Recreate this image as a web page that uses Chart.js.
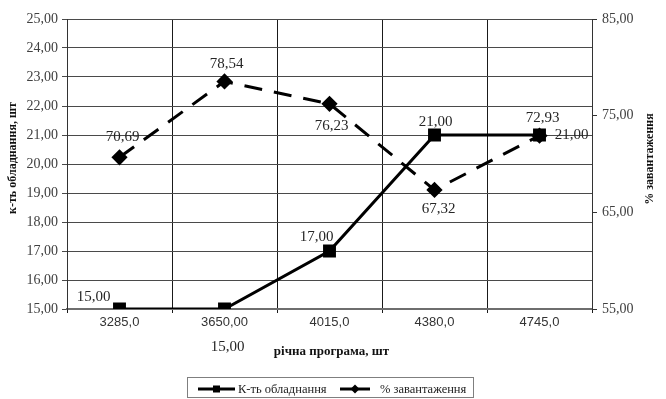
<!DOCTYPE html>
<html>
<head>
<meta charset="utf-8">
<script src="https://cdn.jsdelivr.net/npm/chart.js@4/dist/chart.umd.min.js"></script>
<style>
  html, body { margin: 0; padding: 0; background: #fff; }
  canvas { display: block; }
</style>
</head>
<body>
<canvas id="c" width="666" height="399"></canvas>
<script>
// Annual programme (categories) and the two series
const programme = ["3285,0", "3650,00", "4015,0", "4380,0", "4745,0"];
const equipmentCount = [15, 15, 17, 21, 21];
const loadPercent = [70.69, 78.54, 76.23, 67.32, 72.93];

const equipmentLabel = "К-ть обладнання";
const loadLabel = "% завантаження";
const leftTitle = "к-ть обладнання, шт";
const rightTitle = "% завантаження";
const xTitle = "річна програма, шт";

// Where each value label sits relative to its point (dx, dy)
const equipmentLabelOffsets = [[-26, -12], [3, 38], [-13, -14], [1, -13], [32, 0]];
const loadLabelOffsets = [[3, -20], [2, -17], [2, 22], [4, 19], [3, -18]];

const fmt = v => v.toFixed(2).replace('.', ',');
const SERIF = '"Liberation Serif", "Times New Roman", serif';
const SANS = '"Liberation Sans", Arial, sans-serif';

const valueLabels = {
  id: 'valueLabels',
  afterDatasetsDraw(chart) {
    const ctx = chart.ctx;
    const offsets = [equipmentLabelOffsets, loadLabelOffsets];
    ctx.save();
    ctx.font = '15px ' + SERIF;
    ctx.fillStyle = '#262626';
    ctx.textAlign = 'center';
    ctx.textBaseline = 'middle';
    chart.data.datasets.forEach((ds, di) => {
      const meta = chart.getDatasetMeta(di);
      meta.data.forEach((pt, i) => {
        const [dx, dy] = offsets[di][i];
        ctx.fillText(fmt(ds.data[i]), pt.x + dx, pt.y + dy);
      });
    });
    ctx.restore();
  }
};

const titlesAndLegend = {
  id: 'titlesAndLegend',
  afterDraw(chart) {
    const ctx = chart.ctx;
    const area = chart.chartArea;
    ctx.save();
    ctx.fillStyle = '#111';
    ctx.font = 'bold 12px ' + SERIF;
    ctx.textAlign = 'center';
    ctx.textBaseline = 'middle';
    // left axis title
    ctx.save();
    ctx.translate(13, 158);
    ctx.rotate(-Math.PI / 2);
    ctx.fillText(leftTitle, 0, 0);
    ctx.restore();
    // right axis title
    ctx.save();
    ctx.translate(650, 159);
    ctx.rotate(-Math.PI / 2);
    ctx.fillText(rightTitle, 0, 0);
    ctx.restore();
    // x axis title
    ctx.font = 'bold 13px ' + SERIF;
    ctx.fillText(xTitle, (area.left + area.right) / 2 + 2, 352);

    // legend
    ctx.strokeStyle = '#7f7f7f';
    ctx.lineWidth = 1;
    ctx.strokeRect(187.5, 377.5, 286, 20);
    const items = [
      { x: 198, w: 37, textX: 238, label: chart.data.datasets[0].label, style: 'rect' },
      { x: 340, w: 30, textX: 380, label: chart.data.datasets[1].label, style: 'rectRot' }
    ];
    ctx.font = '12.5px ' + SERIF;
    ctx.textAlign = 'left';
    items.forEach(it => {
      const cy = 389;
      const mx = it.x + it.w / 2;
      ctx.strokeStyle = '#000';
      ctx.lineWidth = 3;
      ctx.beginPath();
      ctx.moveTo(it.x, cy);
      ctx.lineTo(it.x + it.w, cy);
      ctx.stroke();
      ctx.fillStyle = '#000';
      if (it.style === 'rect') {
        ctx.fillRect(mx - 3.5, cy - 3.5, 7, 7);
      } else {
        ctx.beginPath();
        ctx.moveTo(mx, cy - 4.5);
        ctx.lineTo(mx + 4.5, cy);
        ctx.lineTo(mx, cy + 4.5);
        ctx.lineTo(mx - 4.5, cy);
        ctx.closePath();
        ctx.fill();
      }
      ctx.fillStyle = '#222';
      ctx.fillText(it.label, it.textX, cy + 1);
    });
    ctx.restore();
  }
};

new Chart(document.getElementById('c'), {
  type: 'line',
  data: {
    labels: programme,
    datasets: [
      {
        label: equipmentLabel,
        data: equipmentCount,
        yAxisID: 'y',
        borderColor: '#000',
        backgroundColor: '#000',
        borderWidth: 3,
        pointStyle: 'rect',
        pointRadius: 7,
        pointHoverRadius: 7,
        tension: 0,
        order: 1
      },
      {
        label: loadLabel,
        data: loadPercent,
        yAxisID: 'y1',
        borderColor: '#000',
        backgroundColor: '#000',
        borderWidth: 3,
        borderDash: [18, 12],
        pointStyle: 'rectRot',
        pointRadius: 6,
        pointHoverRadius: 6,
        tension: 0,
        order: 2
      }
    ]
  },
  options: {
    responsive: false,
    animation: false,
    layout: { padding: { top: 19, left: 0, right: 0, bottom: 0 } },
    plugins: {
      legend: { display: false },
      tooltip: { enabled: false }
    },
    scales: {
      x: {
        offset: true,
        grid: { offset: true, color: '#1a1a1a', lineWidth: 1, tickLength: 4 },
        border: { color: '#6e6e6e', width: 2 },
        ticks: { font: { family: SANS, size: 13 }, color: '#333', padding: 2, maxRotation: 0 },
        afterFit(scale) { scale.height = 90; }
      },
      y: {
        position: 'left',
        min: 15,
        max: 25,
        grid: { color: '#4a4a4a', lineWidth: 1, tickLength: 5 },
        border: { color: '#333', width: 1 },
        ticks: {
          stepSize: 1,
          font: { family: SERIF, size: 14 },
          color: '#404040',
          padding: 4,
          callback: v => fmt(v)
        },
        afterFit(scale) { scale.width = 67; }
      },
      y1: {
        position: 'right',
        min: 55,
        max: 85,
        grid: { drawOnChartArea: false, color: '#333', tickLength: 5 },
        border: { color: '#333', width: 1 },
        ticks: {
          stepSize: 10,
          font: { family: SERIF, size: 14 },
          color: '#404040',
          padding: 5,
          callback: v => fmt(v)
        },
        afterFit(scale) { scale.width = 74; }
      }
    }
  },
  plugins: [valueLabels, titlesAndLegend]
});
</script>
</body>
</html>
